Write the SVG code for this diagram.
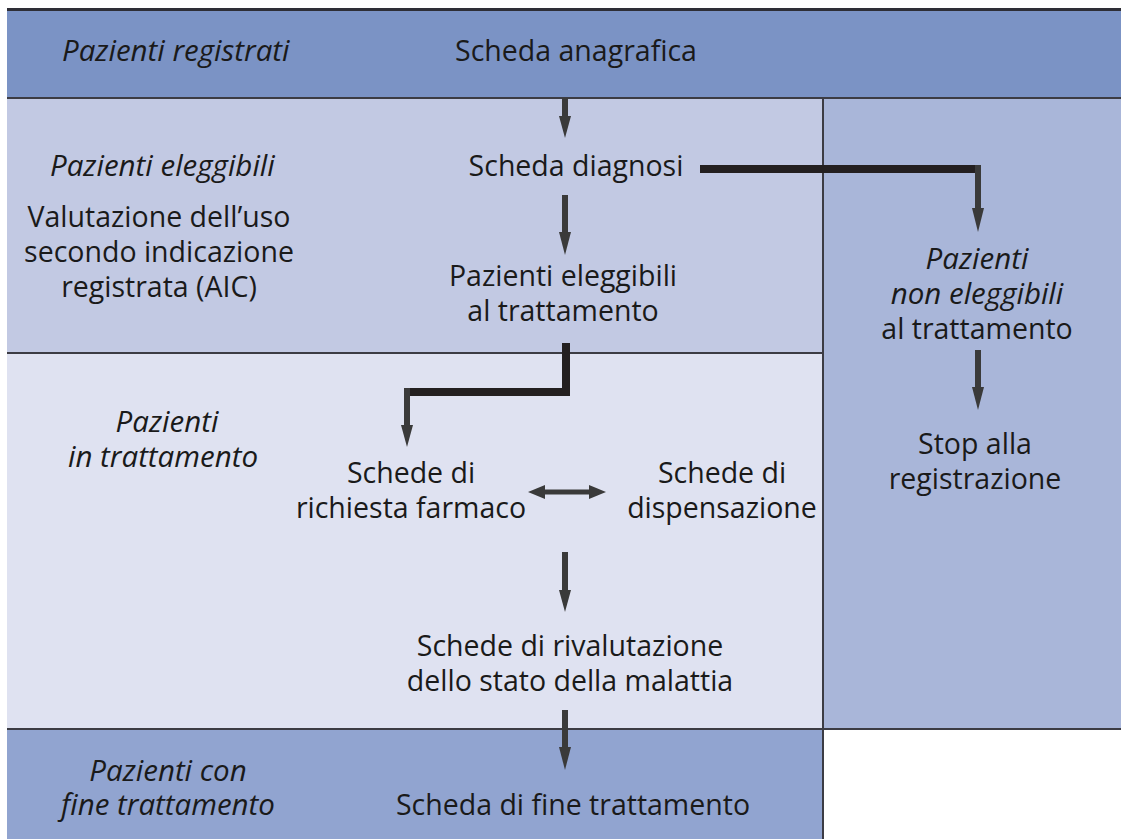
<svg xmlns="http://www.w3.org/2000/svg" width="1121" height="839" viewBox="0 0 1121 839">
<style>
text{font-family:"Open Sans","Noto Sans",sans-serif;font-size:28.5px;fill:#1a1a1a;text-anchor:middle}
.i{font-style:italic;font-size:29.5px}
.l{text-anchor:start}
.sep{stroke:#3c3c44;stroke-width:2;fill:none}
.shaft{fill:#3a3a3a}
.thick{stroke:#231f20;stroke-width:8;fill:none}
</style>
<rect width="1121" height="839" fill="#fff"/>
<g id="bands">
<rect x="7" y="10" width="1114" height="88" fill="#7b93c5"/>
<rect x="7" y="98" width="816" height="255" fill="#c2c9e3"/>
<rect x="823" y="98" width="298" height="631" fill="#a9b6d9"/>
<rect x="7" y="353" width="816" height="376" fill="#dfe2f1"/>
<rect x="7" y="729" width="816" height="110" fill="#91a4d0"/>
<line x1="7" y1="9.5" x2="1121" y2="9.5" stroke="#2e2e36" stroke-width="3"/>
<line class="sep" x1="7" y1="98" x2="1121" y2="98"/>
<line class="sep" x1="7" y1="353" x2="823" y2="353"/>
<line class="sep" x1="823" y1="98" x2="823" y2="839"/>
<line class="sep" x1="7" y1="729" x2="1121" y2="729"/>
</g>
<g id="labels">
<text class="i l" x="62" y="61">Pazienti registrati</text>
<text class="i l" x="50" y="176">Pazienti eleggibili</text>
<text x="159" y="227">Valutazione dell’uso</text>
<text x="159" y="262">secondo indicazione</text>
<text x="159" y="297">registrata (AIC)</text>
<text class="i" x="167" y="432">Pazienti</text>
<text class="i" x="163" y="467">in trattamento</text>
<text class="i" x="168" y="781">Pazienti con</text>
<text class="i" x="168" y="815">fine trattamento</text>
</g>
<g id="n-anagrafica"><text x="576" y="61">Scheda anagrafica</text></g>
<g id="n-diagnosi"><text x="576" y="176">Scheda diagnosi</text></g>
<g id="n-eleggibili"><text x="563" y="286">Pazienti eleggibili</text><text x="563" y="321">al trattamento</text></g>
<g id="n-non-eleggibili"><text class="i" x="977" y="269">Pazienti</text><text class="i" x="977" y="304">non eleggibili</text><text x="977" y="339">al trattamento</text></g>
<g id="n-stop"><text x="975" y="454">Stop alla</text><text x="975" y="489">registrazione</text></g>
<g id="n-richiesta"><text x="411" y="483">Schede di</text><text x="411" y="518">richiesta farmaco</text></g>
<g id="n-dispensazione"><text x="722" y="483">Schede di</text><text x="722" y="518">dispensazione</text></g>
<g id="n-rivalutazione"><text x="570" y="656">Schede di rivalutazione</text><text x="570" y="691">dello stato della malattia</text></g>
<g id="n-fine"><text x="573" y="815">Scheda di fine trattamento</text></g>
<g id="connectors">
<rect class="shaft" x="562" y="98" width="6" height="20"/><polygon class="shaft" points="559,116 571,116 565,138"/>
<rect class="shaft" x="562" y="195" width="6" height="39"/><polygon class="shaft" points="559,232 571,232 565,255"/>
<polyline class="thick" points="700,169 978,169"/>
<rect class="shaft" x="975" y="165" width="6" height="45"/><polygon class="shaft" points="972,208 984,208 978,232"/>
<polyline class="thick" points="566,343 566,392 404,392"/>
<rect class="shaft" x="404" y="388" width="6" height="39"/><polygon class="shaft" points="401,425 413,425 407,447"/>
<rect class="shaft" x="975" y="350" width="6" height="39"/><polygon class="shaft" points="972,387 984,387 978,410"/>
<rect class="shaft" x="540" y="489.5" width="54" height="5"/>
<polygon class="shaft" points="528,492 545,485 545,499"/>
<polygon class="shaft" points="606,492 589,485 589,499"/>
<rect class="shaft" x="562" y="552" width="6" height="40"/><polygon class="shaft" points="559,590 571,590 565,612"/>
<rect class="shaft" x="562" y="710" width="6" height="39"/><polygon class="shaft" points="559,747 571,747 565,770"/>
</g>
</svg>
